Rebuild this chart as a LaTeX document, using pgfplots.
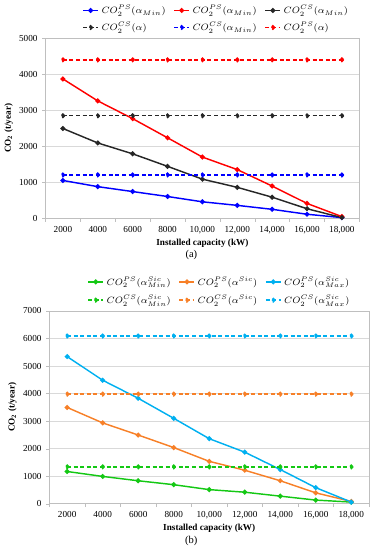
\documentclass[border=0pt]{standalone}
\usepackage{pgfplots}
\pgfplotsset{compat=1.18}
\usepackage{fontspec}
\setmainfont{Liberation Serif}
\definecolor{cblue}{RGB}{0,0,255}
\definecolor{cred}{RGB}{255,0,0}
\definecolor{cblack}{RGB}{38,38,38}
\definecolor{cgreen}{RGB}{20,200,20}
\definecolor{corange}{RGB}{247,128,40}
\definecolor{csky}{RGB}{0,176,240}
\definecolor{gridc}{RGB}{217,217,217}
\definecolor{framec}{RGB}{191,191,191}
\pgfplotsset{
  mystyle/.style={
    scale only axis,
    xmin=-0.5, xmax=8.5,
    xtick={0,...,8},
    xticklabels={2000,4000,6000,8000,{10,000},{12,000},{14,000},{16,000},{18,000}},
    minor xtick={-0.5,0.5,...,8.5},
    major x tick style={draw=none},
    minor x tick style={draw=framec},
    minor tick length=2.5pt,
    major tick length=2.5pt,
    y tick style={draw=framec},
    tick align=outside,
    tick pos=left,
    ymajorgrids,
    grid style={gridc, line width=0.5pt},
    axis line style={framec},
    /pgf/number format/assume math mode=true,
    /pgf/number format/.cd, set thousands separator={}, /pgfplots/.cd,
    ticklabel style={font=\fontsize{7}{8}\selectfont},
    label style={font=\fontsize{7}{8}\selectfont\bfseries},
    xlabel={Installed capacity (kW)},
    ylabel={CO\textsubscript{2} (t/year)},
    xlabel style={yshift=3pt},
    ylabel style={yshift=-2pt},
    legend columns=3,
    legend cell align=left,
    legend style={draw=none, fill=none, font=\fontsize{7}{8}\selectfont,
      /tikz/every even column/.append style={column sep=4pt}, row sep=1pt},
    legend image code/.code={\draw[mark repeat=2,mark phase=2] plot coordinates {(0cm,0cm) (0.2cm,0cm) (0.4cm,0cm)};},
    every axis plot/.append style={line width=1.1pt, mark=*, mark size=1.3pt},
  },
  ds/.style={dash pattern=on 3pt off 2pt},
}
\begin{document}
\begin{tikzpicture}
\path (0,0) rectangle (273pt,412.5pt);
\begin{axis}[mystyle, at={(25.5pt,250.7pt)}, anchor=south west,
  width=238.8pt, height=137.25pt, ymin=0, ymax=5000, ytick={0,1000,...,5000},
  legend style={at={(0.545,1.0)}, anchor=south}]
\addplot[cblue] coordinates {(0,1057)(1,885)(2,749)(3,612)(4,465)(5,366)(6,257)(7,120)(8,27)};
\addlegendentry{$CO_2^{PS}(\alpha_{Min})$}
\addplot[cred] coordinates {(0,3871)(1,3262)(2,2770)(3,2240)(4,1705)(5,1358)(6,902)(7,420)(8,55)};
\addlegendentry{$CO_2^{PS}(\alpha_{Min})$}
\addplot[cblack] coordinates {(0,2497)(1,2096)(2,1795)(3,1448)(4,1093)(5,866)(6,593)(7,273)(8,27)};
\addlegendentry{$CO_2^{CS}(\alpha_{Min})$}
\addplot[cblack, ds] coordinates {(0,2850)(1,2850)(2,2850)(3,2850)(4,2850)(5,2850)(6,2850)(7,2850)(8,2850)};
\addlegendentry{$CO_2^{CS}(\alpha)$}
\addplot[cblue, ds] coordinates {(0,1210)(1,1210)(2,1210)(3,1210)(4,1210)(5,1210)(6,1210)(7,1210)(8,1210)};
\addlegendentry{$CO_2^{CS}(\alpha_{Min})$}
\addplot[cred, ds] coordinates {(0,4400)(1,4400)(2,4400)(3,4400)(4,4400)(5,4400)(6,4400)(7,4400)(8,4400)};
\addlegendentry{$CO_2^{PS}(\alpha)$}
\end{axis}
\node[font=\fontsize{8}{9}\selectfont] at (136.5pt,222.75pt) {(a)};
\begin{axis}[mystyle, at={(28.5pt,33.75pt)}, anchor=south west,
  width=243.2pt, height=146.7pt, ymin=0, ymax=7000, ytick={0,1000,...,7000},
  legend style={at={(0.533,1.0)}, anchor=south, row sep=2pt}]
\addplot[cgreen] coordinates {(0,1170)(1,991)(2,834)(3,691)(4,512)(5,418)(6,275)(7,132)(8,60)};
\addlegendentry{$CO_2^{PS}(\alpha^{Sic}_{Min})$}
\addplot[corange] coordinates {(0,3495)(1,2934)(2,2494)(3,2039)(4,1538)(5,1216)(6,834)(7,394)(8,83)};
\addlegendentry{$CO_2^{PS}(\alpha^{Sic})$}
\addplot[csky] coordinates {(0,5342)(1,4483)(2,3828)(3,3101)(4,2361)(5,1872)(6,1241)(7,583)(8,60)};
\addlegendentry{$CO_2^{PS}(\alpha^{Sic}_{Max})$}
\addplot[cgreen, ds] coordinates {(0,1340)(1,1340)(2,1340)(3,1340)(4,1340)(5,1340)(6,1340)(7,1340)(8,1340)};
\addlegendentry{$CO_2^{CS}(\alpha^{Sic}_{Min})$}
\addplot[corange, ds] coordinates {(0,3980)(1,3980)(2,3980)(3,3980)(4,3980)(5,3980)(6,3980)(7,3980)(8,3980)};
\addlegendentry{$CO_2^{CS}(\alpha^{Sic})$}
\addplot[csky, ds] coordinates {(0,6090)(1,6090)(2,6090)(3,6090)(4,6090)(5,6090)(6,6090)(7,6090)(8,6090)};
\addlegendentry{$CO_2^{CS}(\alpha^{Sic}_{Max})$}
\end{axis}
\node[font=\fontsize{8}{9}\selectfont] at (136.5pt,5.5pt) {(b)};
\end{tikzpicture}
\end{document}
